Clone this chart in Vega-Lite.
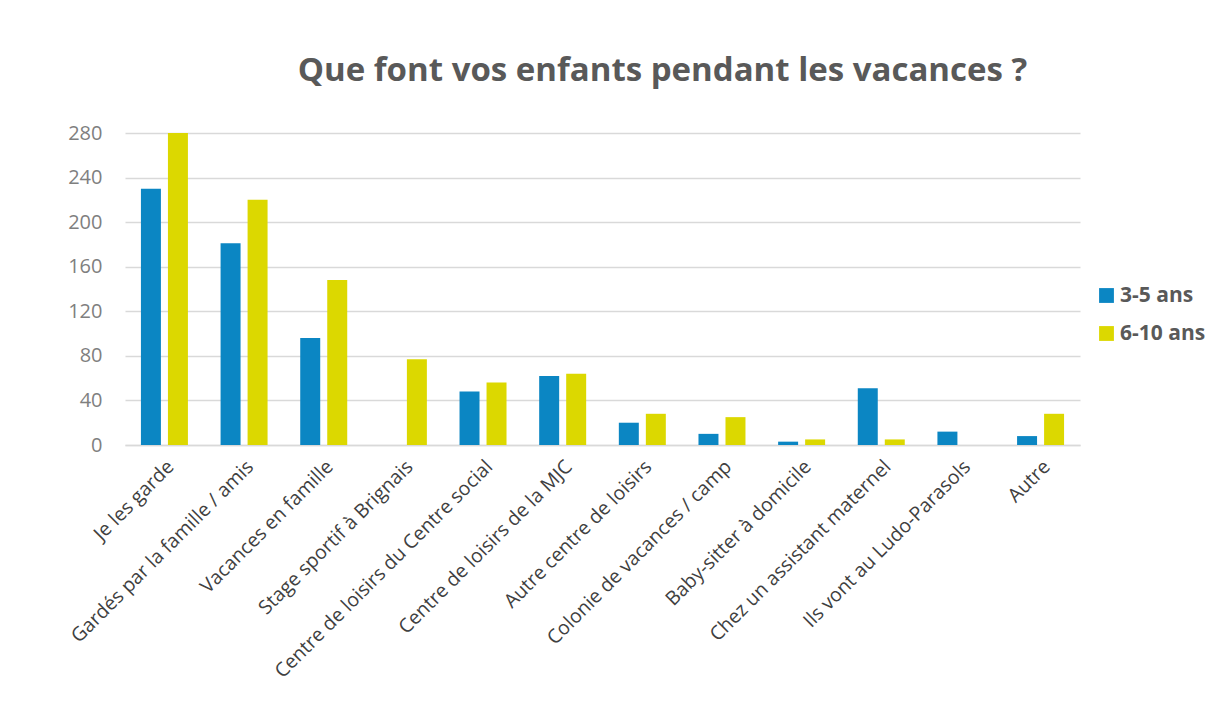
{
  "$schema": "https://vega.github.io/schema/vega-lite/v6.json",
  "autosize": "none",
  "width": 955,
  "height": 312,
  "padding": {"left": 125, "top": 133, "right": 144, "bottom": 278},
  "background": "white",
  "title": {
    "text": "Que font vos enfants pendant les vacances ?",
    "font": "Open Sans",
    "fontSize": 33,
    "fontWeight": "bold",
    "color": "#595959",
    "anchor": "middle",
    "dx": 60,
    "offset": 35
  },
  "data": {
    "values": [
      {"activite": "Je les garde", "age": "3-5 ans", "n": 230},
      {"activite": "Je les garde", "age": "6-10 ans", "n": 280},
      {"activite": "Gardés par la famille / amis", "age": "3-5 ans", "n": 181},
      {"activite": "Gardés par la famille / amis", "age": "6-10 ans", "n": 220},
      {"activite": "Vacances en famille", "age": "3-5 ans", "n": 96},
      {"activite": "Vacances en famille", "age": "6-10 ans", "n": 148},
      {"activite": "Stage sportif à Brignais", "age": "3-5 ans", "n": 0},
      {"activite": "Stage sportif à Brignais", "age": "6-10 ans", "n": 77},
      {"activite": "Centre de loisirs du Centre social", "age": "3-5 ans", "n": 48},
      {"activite": "Centre de loisirs du Centre social", "age": "6-10 ans", "n": 56},
      {"activite": "Centre de loisirs de la MJC", "age": "3-5 ans", "n": 62},
      {"activite": "Centre de loisirs de la MJC", "age": "6-10 ans", "n": 64},
      {"activite": "Autre centre de loisirs", "age": "3-5 ans", "n": 20},
      {"activite": "Autre centre de loisirs", "age": "6-10 ans", "n": 28},
      {"activite": "Colonie de vacances / camp", "age": "3-5 ans", "n": 10},
      {"activite": "Colonie de vacances / camp", "age": "6-10 ans", "n": 25},
      {"activite": "Baby-sitter à domicile", "age": "3-5 ans", "n": 3},
      {"activite": "Baby-sitter à domicile", "age": "6-10 ans", "n": 5},
      {"activite": "Chez un assistant maternel", "age": "3-5 ans", "n": 51},
      {"activite": "Chez un assistant maternel", "age": "6-10 ans", "n": 5},
      {"activite": "Ils vont au Ludo-Parasols", "age": "3-5 ans", "n": 12},
      {"activite": "Ils vont au Ludo-Parasols", "age": "6-10 ans", "n": 0},
      {"activite": "Autre", "age": "3-5 ans", "n": 8},
      {"activite": "Autre", "age": "6-10 ans", "n": 28}
    ]
  },
  "mark": {"type": "bar"},
  "encoding": {
    "x": {
      "field": "activite",
      "type": "nominal",
      "sort": null,
      "scale": {"paddingInner": 0.41, "paddingOuter": 0.2},
      "axis": {
        "title": null,
        "labelAngle": -45,
        "labelFont": "Open Sans",
        "labelFontSize": 19.5,
        "labelColor": "#404040",
        "labelPadding": 12,
        "labelLimit": 500,
        "ticks": false,
        "domainColor": "#d9d9d9",
        "domainWidth": 1.5,
        "grid": false
      }
    },
    "xOffset": {
      "field": "age",
      "type": "nominal",
      "scale": {"paddingInner": 0.26, "paddingOuter": 0}
    },
    "y": {
      "field": "n",
      "type": "quantitative",
      "scale": {"domain": [0, 280]},
      "axis": {
        "title": null,
        "values": [0, 40, 80, 120, 160, 200, 240, 280],
        "labelFont": "Open Sans",
        "labelFontSize": 20,
        "labelColor": "#7f7f7f",
        "labelPadding": 23,
        "ticks": false,
        "domain": false,
        "gridColor": "#d9d9d9",
        "gridWidth": 1.5
      }
    },
    "color": {
      "field": "age",
      "type": "nominal",
      "scale": {"domain": ["3-5 ans", "6-10 ans"], "range": ["#0B86C3", "#DCD800"]},
      "legend": {
        "title": null,
        "orient": "none",
        "legendX": 971,
        "legendY": 152,
        "symbolType": "square",
        "symbolSize": 220,
        "symbolStrokeWidth": 0,
        "labelFont": "Open Sans",
        "labelFontSize": 21,
        "labelFontWeight": "bold",
        "labelColor": "#595959",
        "labelOffset": 3,
        "rowPadding": 16
      }
    }
  },
  "config": {"view": {"stroke": null}}
}
